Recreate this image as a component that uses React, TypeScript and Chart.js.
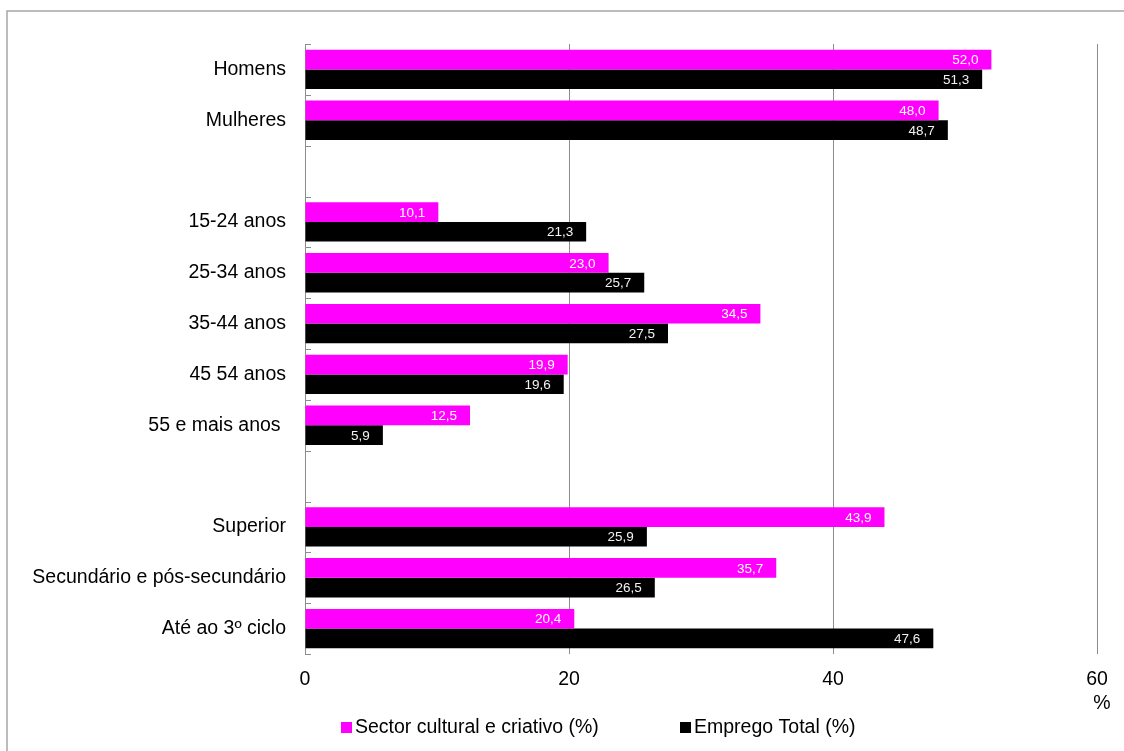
import React, { useEffect, useRef } from 'react';
import { Chart, registerables } from 'chart.js';

Chart.register(...registerables);

const categories: string[] = [
  'Homens',
  'Mulheres',
  '',
  '15-24 anos',
  '25-34 anos',
  '35-44 anos',
  '45 54 anos',
  '55 e mais anos ',
  '',
  'Superior',
  'Secundário e pós-secundário',
  'Até ao 3º ciclo',
];

const seriesNames: string[] = ['Sector cultural e criativo (%)', 'Emprego Total (%)'];

const sectorValues: (number | null)[] = [52.0, 48.0, null, 10.1, 23.0, 34.5, 19.9, 12.5, null, 43.9, 35.7, 20.4];
const empregoValues: (number | null)[] = [51.3, 48.7, null, 21.3, 25.7, 27.5, 19.6, 5.9, null, 25.9, 26.5, 47.6];

const xTicks: number[] = [0, 20, 40, 60];
const unitLabel = '%';

const FONT = '"Liberation Sans", Arial, sans-serif';
const PINK = '#FF00FF';
const BLACK = '#000000';
const GRID = '#8c8c8c';

const decorPlugin = {
  id: 'decor',
  beforeDraw(chart: any) {
    const ctx = chart.ctx;
    ctx.save();
    ctx.strokeStyle = '#a6a6a6';
    ctx.lineWidth = 1.5;
    ctx.strokeRect(7, 11, 1200, 800);
    ctx.restore();
  },
  afterDatasetsDraw(chart: any) {
    const ctx = chart.ctx;
    ctx.save();
    ctx.font = '13.5px ' + FONT;
    ctx.textAlign = 'right';
    ctx.textBaseline = 'middle';
    chart.data.datasets.forEach((ds: any, di: number) => {
      const meta = chart.getDatasetMeta(di);
      meta.data.forEach((el: any, i: number) => {
        const v = ds.data[i];
        if (v === null || v === undefined) return;
        ctx.fillStyle = di === 0 ? '#ffffff' : '#f2f2f2';
        ctx.fillText(v.toFixed(1).replace('.', ','), el.x - 13, el.y + 1);
      });
    });
    ctx.restore();
  },
  afterDraw(chart: any) {
    const ctx = chart.ctx;
    const yScale = chart.scales.y;
    const xScale = chart.scales.x;
    const n = chart.data.labels.length;
    ctx.save();
    // inner tick marks at category boundaries
    ctx.strokeStyle = GRID;
    ctx.lineWidth = 1;
    const step = n > 1 ? yScale.getPixelForTick(1) - yScale.getPixelForTick(0) : 0;
    const x0 = xScale.getPixelForValue(0);
    for (let i = 0; i <= n; i++) {
      const y = Math.round(yScale.getPixelForTick(0) - step / 2 + i * step) + 0.5;
      ctx.beginPath();
      ctx.moveTo(x0, y);
      ctx.lineTo(x0 + 6, y);
      ctx.stroke();
    }
    // unit label
    ctx.fillStyle = '#000';
    ctx.font = '19.5px ' + FONT;
    ctx.textAlign = 'center';
    ctx.textBaseline = 'middle';
    ctx.fillText(unitLabel, xScale.getPixelForValue(60) + 5, 704);
    // legend
    const legendX = [341, 680];
    ctx.textAlign = 'left';
    chart.data.datasets.forEach((ds: any, di: number) => {
      ctx.fillStyle = ds.backgroundColor;
      ctx.fillRect(legendX[di], 722, 11, 11);
      ctx.fillStyle = '#000';
      ctx.fillText(ds.label, legendX[di] + 14, 728);
    });
    ctx.restore();
  },
};

export default function App() {
  const canvasRef = useRef<HTMLCanvasElement | null>(null);

  useEffect(() => {
    if (!canvasRef.current) return;
    const chart = new Chart(canvasRef.current, {
      type: 'bar',
      data: {
        labels: categories,
        datasets: [
          {
            label: seriesNames[0],
            data: sectorValues,
            backgroundColor: PINK,
            barPercentage: 1,
            categoryPercentage: 0.775,
          },
          {
            label: seriesNames[1],
            data: empregoValues,
            backgroundColor: BLACK,
            barPercentage: 1,
            categoryPercentage: 0.775,
          },
        ],
      },
      options: {
        indexAxis: 'y',
        animation: false,
        responsive: false,
        maintainAspectRatio: false,
        layout: { padding: { left: 0, right: 27, top: 44, bottom: 0 } },
        plugins: {
          legend: { display: false },
          tooltip: { enabled: false },
        },
        scales: {
          x: {
            min: 0,
            max: 60,
            afterBuildTicks: (scale: any) => {
              scale.ticks = xTicks.map((v) => ({ value: v }));
            },
            ticks: {
              font: { family: FONT, size: 19.5 },
              color: '#000',
              padding: 14,
            },
            grid: {
              color: (c: any) => (c.tick && c.tick.value === 0 ? 'rgba(0,0,0,0)' : GRID),
              lineWidth: 1,
              drawTicks: false,
            },
            border: { display: false },
            afterFit: (scale: any) => {
              scale.height = 97;
            },
          },
          y: {
            grid: { display: false, drawTicks: false },
            border: { display: true, color: GRID, width: 1 },
            ticks: {
              font: { family: FONT, size: 19.5 },
              color: '#000',
              padding: 19,
              autoSkip: false,
            },
            afterFit: (scale: any) => {
              scale.width = 305;
            },
          },
        },
      },
      plugins: [decorPlugin],
    });
    return () => chart.destroy();
  }, []);

  return (
    <div style={{ position: 'absolute', left: 0, top: 0, width: 1124, height: 751, background: '#fff' }}>
      <canvas ref={canvasRef} width={1124} height={751} style={{ display: 'block' }} />
    </div>
  );
}
